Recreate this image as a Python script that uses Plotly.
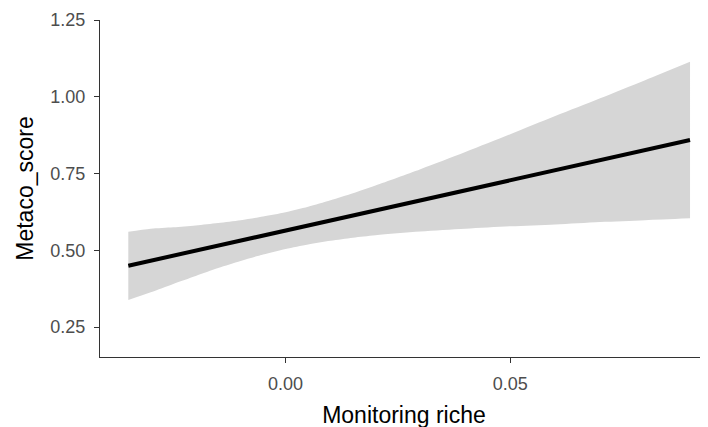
import plotly.graph_objects as go

# Fitted line (endpoints of the linear fit)
line_x = [-0.0350, 0.0900]
line_y = [0.4497, 0.8590]

# Confidence band
band_x = [-0.035, -0.030, -0.025, -0.020, -0.015, -0.010, -0.005, 0.000, 0.005, 0.010,
          0.015, 0.020, 0.030, 0.040, 0.050, 0.060, 0.070, 0.080, 0.090]
band_upper = [0.560, 0.570, 0.575, 0.581, 0.589, 0.598, 0.610, 0.624, 0.642, 0.663,
              0.686, 0.711, 0.764, 0.820, 0.878, 0.937, 0.995, 1.054, 1.114]
band_lower = [0.338, 0.363, 0.390, 0.416, 0.442, 0.465, 0.486, 0.504, 0.519, 0.531,
              0.541, 0.549, 0.561, 0.570, 0.578, 0.584, 0.592, 0.598, 0.604]

y_ticks = [0.25, 0.50, 0.75, 1.00, 1.25]
y_tick_text = ["0.25", "0.50", "0.75", "1.00", "1.25"]
x_ticks = [0.00, 0.05]
x_tick_text = ["0.00", "0.05"]

fig = go.Figure()
fig.add_trace(go.Scatter(
    x=band_x, y=band_lower, mode="lines",
    line=dict(width=0, shape="spline", smoothing=0.8),
    hoverinfo="skip", showlegend=False,
))
fig.add_trace(go.Scatter(
    x=band_x, y=band_upper, mode="lines", fill="tonexty", fillcolor="#d6d6d6",
    line=dict(width=0, shape="spline", smoothing=0.8),
    hoverinfo="skip", showlegend=False,
))
fig.add_trace(go.Scatter(
    x=line_x, y=line_y, mode="lines",
    line=dict(color="black", width=4), showlegend=False,
))

font_family = "Liberation Sans, Arial, sans-serif"
fig.update_layout(
    width=708, height=427,
    margin=dict(l=92, r=8, t=12, b=78),
    paper_bgcolor="white", plot_bgcolor="white",
    font=dict(family=font_family),
    showlegend=False,
)
axis_common = dict(
    showgrid=False, zeroline=False,
    showline=True, linecolor="#333333", linewidth=1.1,
    ticks="outside", ticklen=5, tickwidth=1.1, tickcolor="#333333",
    tickfont=dict(size=18, color="#4d4d4d", family=font_family),
    automargin=False,
)
fig.update_xaxes(
    range=[-0.0413, 0.0940],
    tickvals=x_ticks, ticktext=x_tick_text,
    title=dict(text="Monitoring riche", font=dict(size=23, color="black", family=font_family), standoff=14),
    ticklabelstandoff=5,
    **axis_common,
)
fig.update_yaxes(
    range=[0.1524, 1.25],
    tickvals=y_ticks, ticktext=y_tick_text,
    title=dict(text="Metaco_score", font=dict(size=23, color="black", family=font_family), standoff=10),
    ticklabelstandoff=5,
    **axis_common,
)

fig.write_html("out.html")
